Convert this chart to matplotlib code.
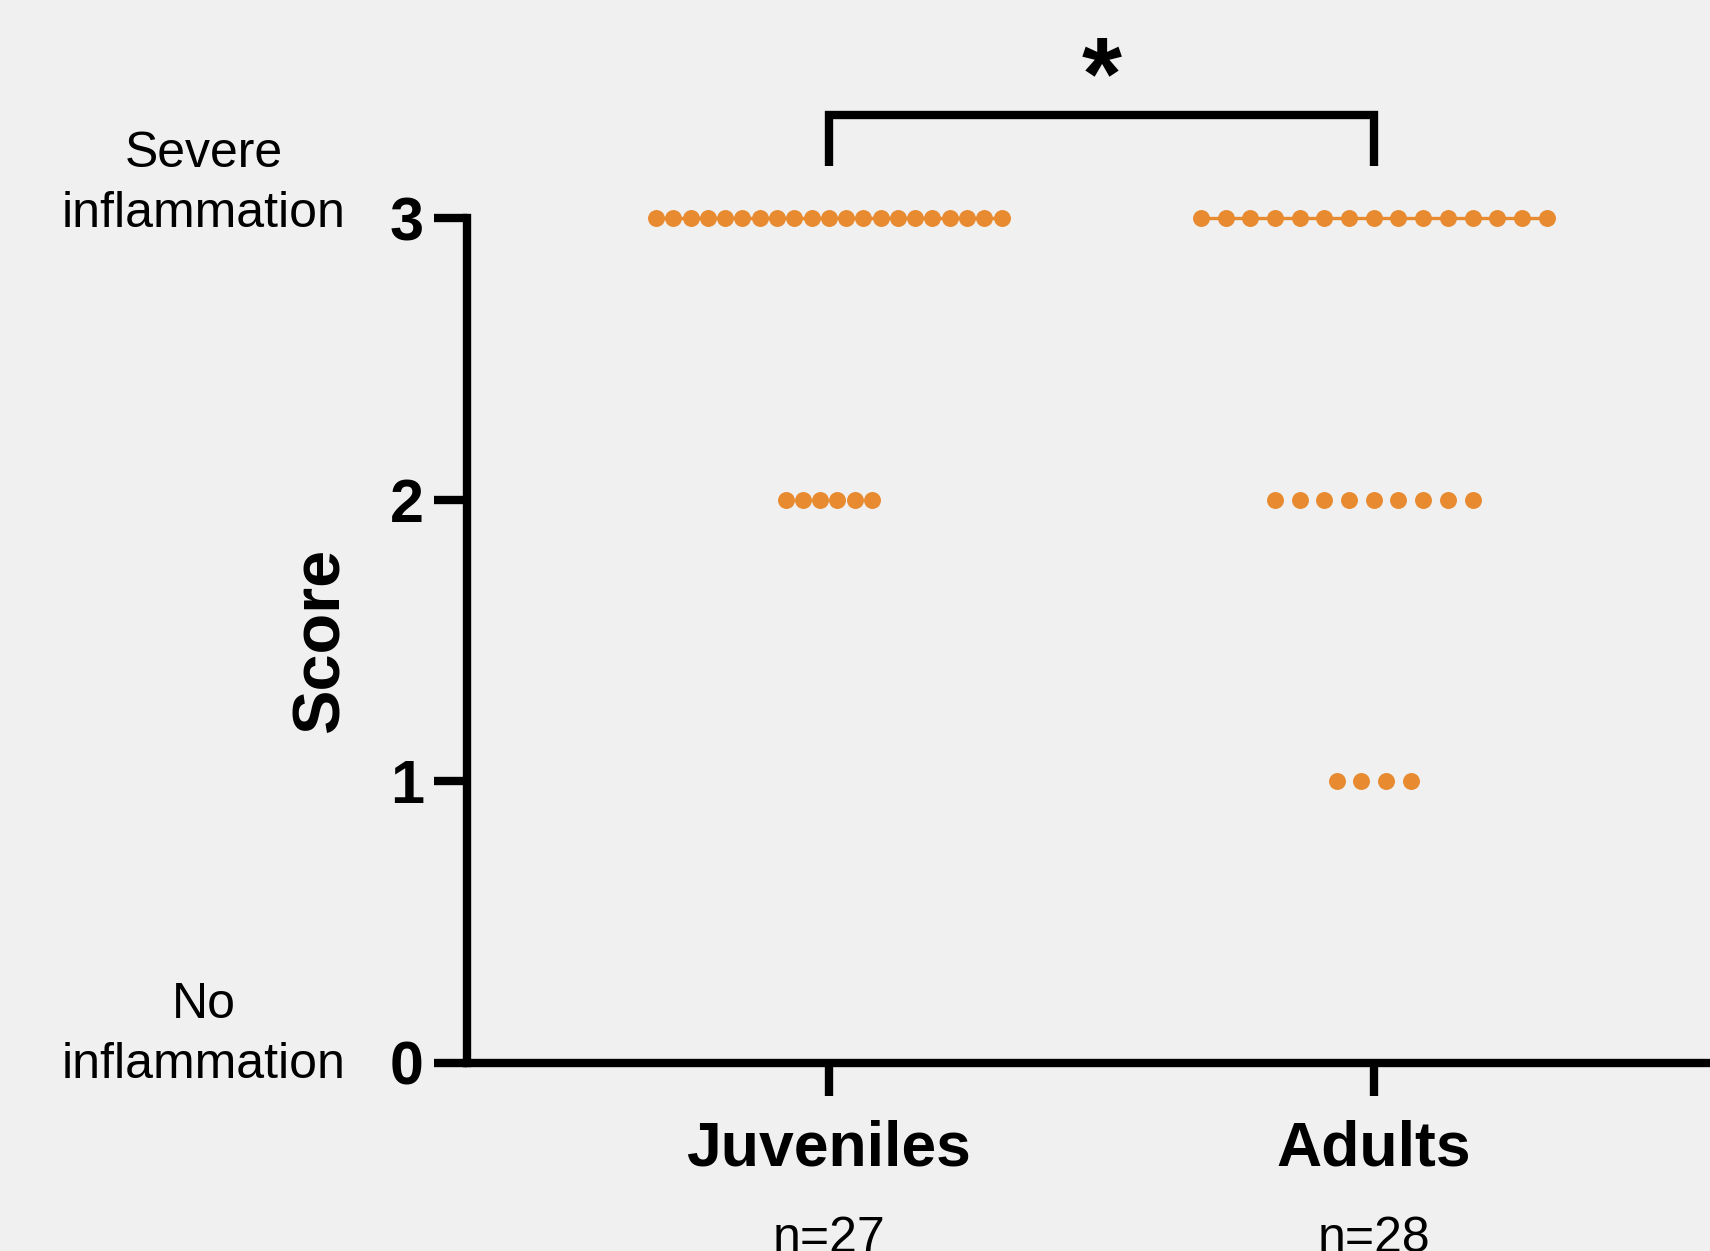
import numpy as np
import matplotlib
matplotlib.use("Agg")
import matplotlib.pyplot as plt

# scores per group, stored as counts per score level
groups = ["Juveniles", "Adults"]
n_labels = ["n=27", "n=28"]
score_levels = [3, 2, 1, 0]
juv_counts = [21, 6, 0, 0]
adult_counts = [15, 9, 4, 0]
medians = [3, 3]
y_ticks = [0, 1, 2, 3]
top_label = "Severe\ninflammation"
bottom_label = "No\ninflammation"
signif = "*"

orange = "#E88A2F"
bg = "#F0F0F0"

plt.rcParams['font.family'] = ['Liberation Sans', 'DejaVu Sans']

fig = plt.figure(figsize=(17.1, 12.51), dpi=100, facecolor=bg)
ax = fig.add_axes([0.2731, 0.1503, 0.7269, 0.6754])
ax.set_facecolor(bg)

xpos = [1, 2]
spacing = [0.0317, 0.0453]
for gi, counts in enumerate([juv_counts, adult_counts]):
    # median line
    ax.plot([xpos[gi] - 0.317, xpos[gi] + 0.317], [medians[gi], medians[gi]],
            color=orange, lw=2.4, zorder=2, clip_on=False, solid_capstyle='butt')
    for lvl, c in zip(score_levels, counts):
        if c == 0:
            continue
        offs = (np.arange(c) - (c - 1) / 2.0) * spacing[gi]
        ax.plot(xpos[gi] + offs, [lvl] * c, 'o', color=orange, ms=12.2,
                mec='none', zorder=3, clip_on=False)

ax.set_xlim(0.336, 2.617)
ax.set_ylim(0, 3)

for s in ['top', 'right']:
    ax.spines[s].set_visible(False)
for s in ['left', 'bottom']:
    ax.spines[s].set_linewidth(6)
    ax.spines[s].set_color('black')
    ax.spines[s].set_capstyle('projecting')

ax.set_yticks(y_ticks)
ax.set_yticklabels([str(t) for t in y_ticks], fontsize=44, fontweight='bold')
ax.tick_params(axis='y', length=24, width=6, pad=7)
ax.set_xticks(xpos)
ax.set_xticklabels(groups, fontsize=45, fontweight='bold')
ax.tick_params(axis='x', length=24, width=6, pad=17)

ytr = ax.get_yaxis_transform()
ax.text(-0.212, 2.968, top_label, transform=ytr, ha='center', va='baseline',
        multialignment='center', fontsize=36, linespacing=1.4)
ax.text(-0.212, -0.053, bottom_label, transform=ytr, ha='center', va='baseline',
        multialignment='center', fontsize=36, linespacing=1.4)
ax.text(-0.117, 1.5, "Score", transform=ytr, rotation=90, ha='center',
        va='center', fontsize=48, fontweight='bold')

for x, lab in zip(xpos, n_labels):
    ax.text(x, -0.543, lab, ha='center', va='top', fontsize=36, clip_on=False)

# significance bracket
ax.plot([1, 1, 2, 2], [3.185, 3.367, 3.367, 3.185], color='black', lw=6,
        clip_on=False, solid_joinstyle='miter', solid_capstyle='butt')
ax.text(1.5, 3.385, signif, ha='center', va='baseline', fontsize=74,
        fontweight='bold', clip_on=False)

fig.savefig("out.png", dpi=100, facecolor=bg)
